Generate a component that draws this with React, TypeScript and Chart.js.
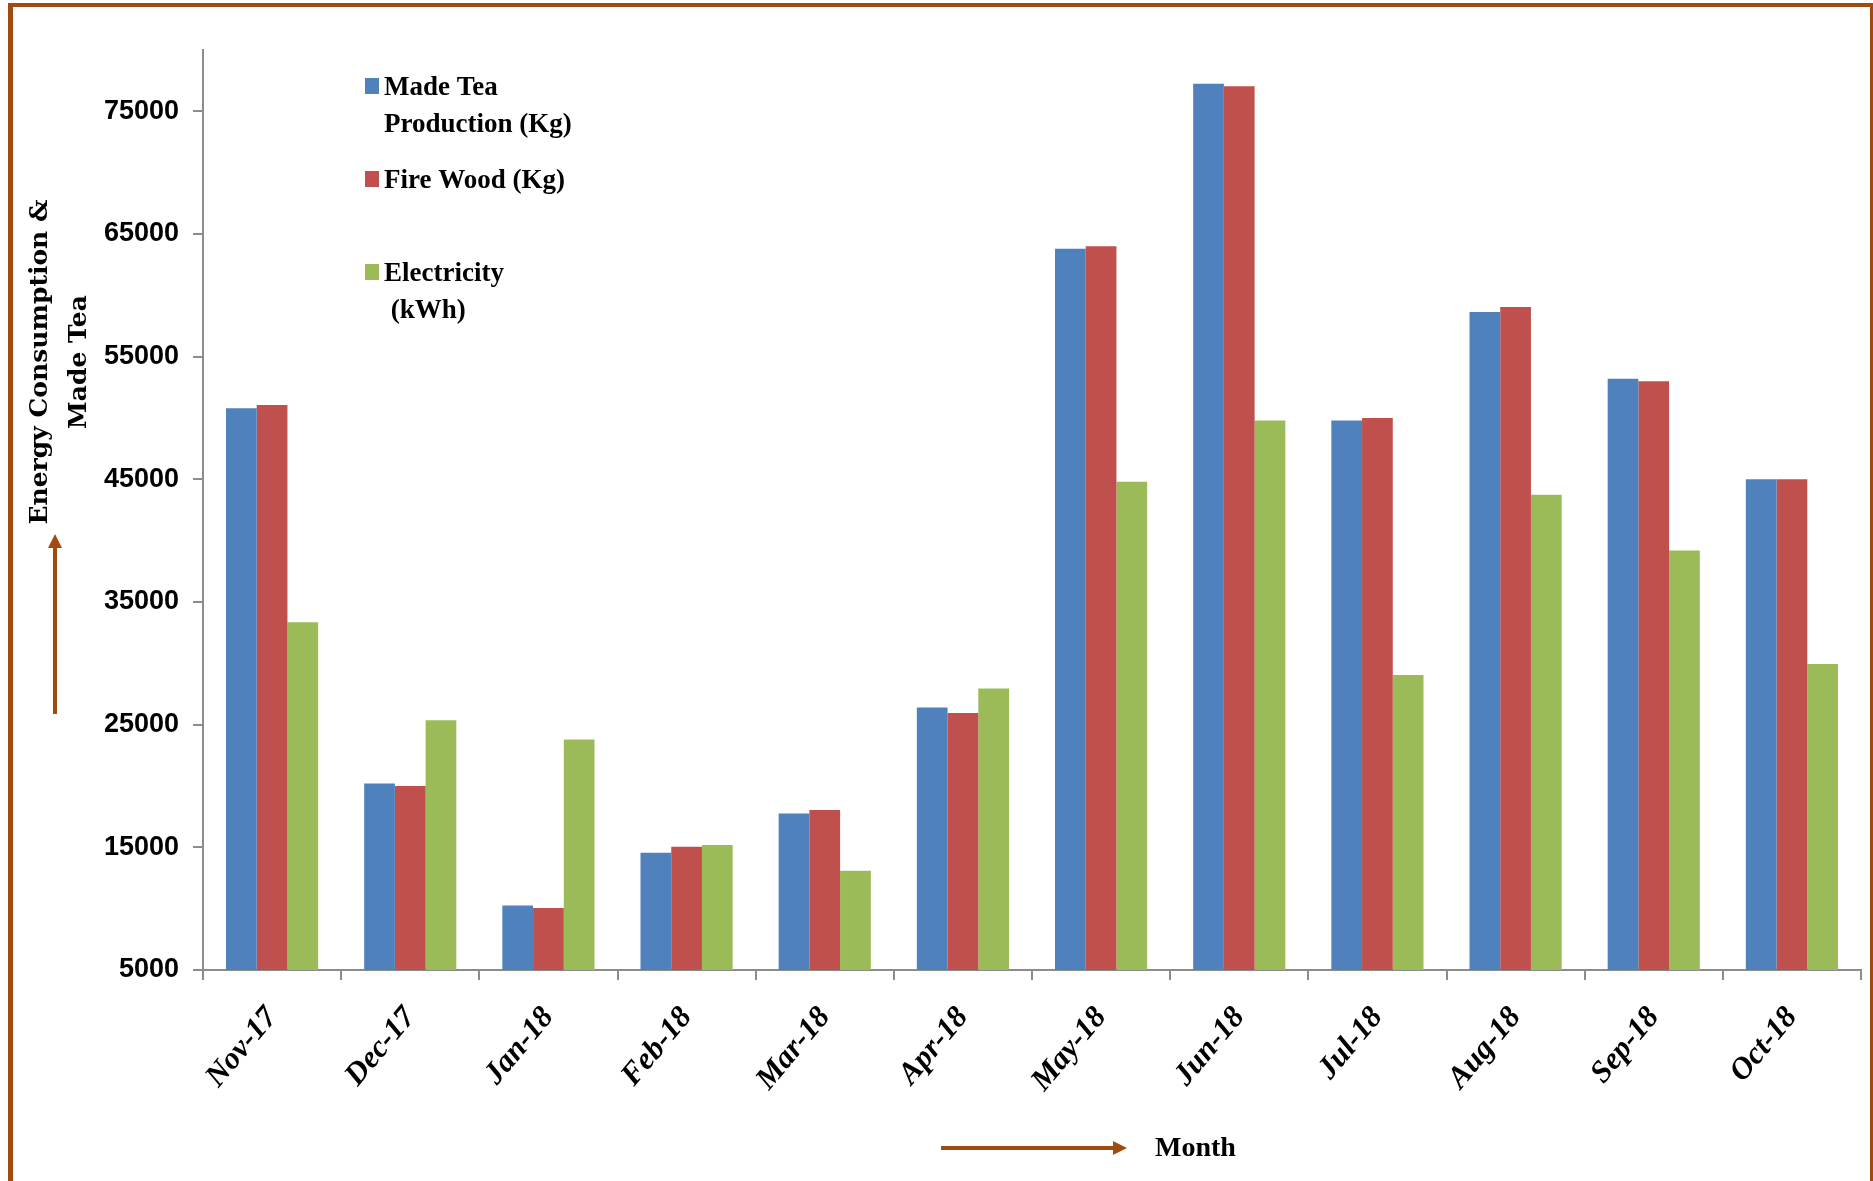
import React, { useEffect, useRef } from 'react';
import { Chart, registerables } from 'chart.js';

Chart.register(...registerables);

// Monthly figures, Nov 2017 – Oct 2018
const months = ['Nov-17', 'Dec-17', 'Jan-18', 'Feb-18', 'Mar-18', 'Apr-18', 'May-18', 'Jun-18', 'Jul-18', 'Aug-18', 'Sep-18', 'Oct-18'];
const madeTea = [50800, 20200, 10250, 14550, 17750, 26400, 63800, 77250, 49800, 58650, 53200, 45000];
const fireWood = [51050, 20000, 10050, 15050, 18050, 25950, 64000, 77050, 50000, 59050, 53000, 45000];
const electricity = [33350, 25350, 23800, 15200, 13100, 27950, 44800, 49800, 29050, 43750, 39200, 29950];

const yTicks = [5000, 15000, 25000, 35000, 45000, 55000, 65000, 75000];
const yMin = 5000;
const yMax = 80000;

const legendLabels = [['Made Tea', 'Production (Kg)'], ['Fire Wood (Kg)'], ['Electricity', ' (kWh)']];
const yTitle = ['Energy Consumption &', 'Made Tea'];
const xTitle = 'Month';

const BROWN = '#A04C10';
const AXIS = '#8C8C8C';

function arrow(ctx: CanvasRenderingContext2D, x1: number, y1: number, x2: number, y2: number) {
  const ang = Math.atan2(y2 - y1, x2 - x1);
  const head = 14;
  const half = 7;
  ctx.strokeStyle = BROWN;
  ctx.fillStyle = BROWN;
  ctx.lineWidth = 4;
  ctx.lineCap = 'butt';
  ctx.beginPath();
  ctx.moveTo(x1, y1);
  ctx.lineTo(x2 - Math.cos(ang) * head, y2 - Math.sin(ang) * head);
  ctx.stroke();
  ctx.beginPath();
  ctx.moveTo(x2, y2);
  const bx = x2 - Math.cos(ang) * head;
  const by = y2 - Math.sin(ang) * head;
  ctx.lineTo(bx + Math.sin(ang) * half, by - Math.cos(ang) * half);
  ctx.lineTo(bx - Math.sin(ang) * half, by + Math.cos(ang) * half);
  ctx.closePath();
  ctx.fill();
}

// Legend inside the plot, axis titles with arrows
const decorations = {
  id: 'decorations',
  afterDraw(chart: any) {
    const ctx: CanvasRenderingContext2D = chart.ctx;
    ctx.save();

    const baselines = [95, 188, 281];
    ctx.font = 'bold 27px "Liberation Serif"';
    ctx.textAlign = 'left';
    ctx.textBaseline = 'alphabetic';
    chart.data.datasets.forEach((ds: any, i: number) => {
      const base = baselines[i];
      ctx.fillStyle = ds.backgroundColor;
      ctx.fillRect(365, base - 17, 14, 16);
      ctx.fillStyle = '#000';
      legendLabels[i].forEach((t, j) => ctx.fillText(t, 384, base + j * 37));
    });

    // vertical title
    ctx.font = 'bold 25px "DejaVu Serif"';
    ctx.textAlign = 'center';
    ctx.fillStyle = '#000';
    const titleX = [47, 86];
    yTitle.forEach((t, j) => {
      ctx.save();
      ctx.translate(titleX[j], 362);
      ctx.rotate(-Math.PI / 2);
      ctx.fillText(t, 0, 0);
      ctx.restore();
    });
    arrow(ctx, 55, 714, 55, 534);

    // horizontal title
    arrow(ctx, 941, 1148, 1127, 1148);
    ctx.font = 'bold 28px "Liberation Serif"';
    ctx.textAlign = 'left';
    ctx.fillStyle = '#000';
    ctx.fillText(xTitle, 1155, 1156);

    ctx.restore();
  },
};

export default function App() {
  const ref = useRef<HTMLCanvasElement | null>(null);

  useEffect(() => {
    if (!ref.current) return;
    const chart = new Chart(ref.current, {
      type: 'bar',
      data: {
        labels: months,
        datasets: [
          { label: legendLabels[0].join(' '), data: madeTea, backgroundColor: '#4F81BD' },
          { label: legendLabels[1].join(' '), data: fireWood, backgroundColor: '#C0504D' },
          { label: legendLabels[2].join(' '), data: electricity, backgroundColor: '#9BBB59' },
        ],
      },
      options: {
        responsive: false,
        animation: false,
        devicePixelRatio: 1,
        datasets: { bar: { barPercentage: 1, categoryPercentage: 0.667 } },
        layout: { padding: { top: 50, right: 12, left: 0, bottom: 0 } },
        plugins: { legend: { display: false }, tooltip: { enabled: false } },
        scales: {
          x: {
            grid: { display: true, drawOnChartArea: false, drawTicks: true, tickLength: 10, color: AXIS, lineWidth: 2, offset: true },
            border: { display: true, color: AXIS, width: 2 },
            ticks: {
              autoSkip: false,
              minRotation: 50,
              maxRotation: 50,
              padding: 20,
              color: '#000',
              font: { family: '"Liberation Serif"', style: 'italic', weight: 'bold', size: 31 },
            },
            afterFit: (scale: any) => { scale.height = 211; },
          },
          y: {
            min: yMin,
            max: yMax,
            grid: { display: true, drawOnChartArea: false, drawTicks: true, tickLength: 10, color: AXIS, lineWidth: 2 },
            border: { display: true, color: AXIS, width: 2 },
            ticks: {
              padding: 14,
              color: '#000',
              font: { family: '"Liberation Sans"', weight: 'bold', size: 27 },
              callback: (v: any) => String(v),
            },
            afterBuildTicks: (scale: any) => { scale.ticks = yTicks.map((v) => ({ value: v })); },
            afterFit: (scale: any) => { scale.width = 203; },
          },
        },
      },
      plugins: [decorations],
    });
    return () => chart.destroy();
  }, []);

  return (
    <div style={{ position: 'absolute', left: 0, top: 0, width: 1873, height: 1181, overflow: 'hidden', background: '#fff' }}>
      <div
        style={{
          position: 'absolute',
          left: 8,
          top: 3,
          width: 1865,
          height: 1180,
          boxSizing: 'border-box',
          borderTop: `4px solid ${BROWN}`,
          borderLeft: `5px solid ${BROWN}`,
          borderRight: `3px solid ${BROWN}`,
        }}
      />
      <canvas ref={ref} width={1873} height={1181} style={{ position: 'absolute', left: 0, top: 0 }} />
    </div>
  );
}
